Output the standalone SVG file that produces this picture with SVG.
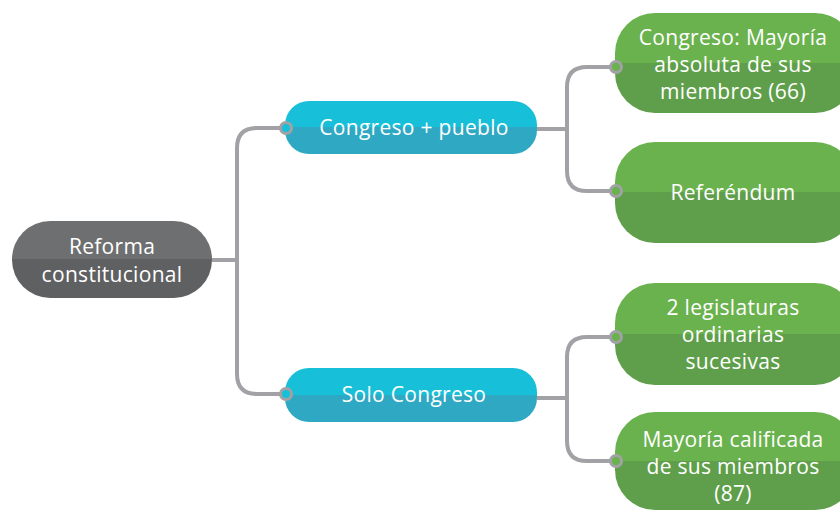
<svg xmlns="http://www.w3.org/2000/svg" width="840" height="510" viewBox="0 0 840 510">
<defs>
<linearGradient id="gGray" x1="0" y1="0" x2="0" y2="1"><stop offset="0.5" stop-color="#6e6f71"/><stop offset="0.5" stop-color="#5f6062"/></linearGradient>
<linearGradient id="gCyan" x1="0" y1="0" x2="0" y2="1"><stop offset="0.5" stop-color="#17c0d8"/><stop offset="0.5" stop-color="#2fa9c3"/></linearGradient>
<linearGradient id="gGreen" x1="0" y1="0" x2="0" y2="1"><stop offset="0.5" stop-color="#6ab24d"/><stop offset="0.5" stop-color="#5f9f4b"/></linearGradient>
<style>
.t{font-family:"Open Sans","Noto Sans",sans-serif;font-size:21px;letter-spacing:0.3px;fill:#ffffff;text-anchor:middle}
.ln{fill:none;stroke:#a2a2a6;stroke-width:4}
.dot{stroke:#a2a2a6;stroke-width:3}
</style>
</defs>
<rect width="840" height="510" fill="#ffffff"/>
<g id="connectors">
<path class="ln" d="M212 260 H237"/>
<path class="ln" d="M285 128 H257 Q237 128 237 148 V374 Q237 394 257 394 H285"/>
<path class="ln" d="M537 129 H567"/>
<path class="ln" d="M616 67 H587 Q567 67 567 87 V171 Q567 191 587 191 H616"/>
<path class="ln" d="M537 398 H567"/>
<path class="ln" d="M616 337 H587 Q567 337 567 357 V441 Q567 461 587 461 H616"/>
</g>
<g id="root">
<rect x="12" y="221" width="200" height="77" rx="38" fill="url(#gGray)"/>
<text class="t" x="112" y="254">Reforma</text>
<text class="t" x="112" y="282">constitucional</text>
</g>
<g id="congreso-pueblo">
<rect x="285" y="101" width="252" height="53" rx="24" fill="url(#gCyan)"/>
<text class="t" x="414" y="135">Congreso + pueblo</text>
<circle class="dot" cx="286" cy="128" r="5.5" fill="#17c0d8"/>
</g>
<g id="solo-congreso">
<rect x="285" y="368" width="252" height="54" rx="24" fill="url(#gCyan)"/>
<text class="t" x="414" y="402">Solo Congreso</text>
<circle class="dot" cx="286" cy="394" r="5.5" fill="#17c0d8"/>
</g>
<g id="mayoria-absoluta">
<rect x="615" y="13" width="240" height="100" rx="40" fill="url(#gGreen)"/>
<text class="t" x="733" y="45">Congreso: Mayoría</text>
<text class="t" x="733" y="72">absoluta de sus</text>
<text class="t" x="733" y="99">miembros (66)</text>
<circle class="dot" cx="616" cy="67" r="5.5" fill="#6ab24d"/>
</g>
<g id="referendum">
<rect x="615" y="142" width="240" height="101" rx="40" fill="url(#gGreen)"/>
<text class="t" x="733" y="200">Referéndum</text>
<circle class="dot" cx="616" cy="191" r="5.5" fill="#6ab24d"/>
</g>
<g id="legislaturas">
<rect x="615" y="283" width="240" height="102" rx="40" fill="url(#gGreen)"/>
<text class="t" x="733" y="315">2 legislaturas</text>
<text class="t" x="733" y="342">ordinarias</text>
<text class="t" x="733" y="369">sucesivas</text>
<circle class="dot" cx="616" cy="337" r="5.5" fill="#6ab24d"/>
</g>
<g id="mayoria-calificada">
<rect x="615" y="412" width="240" height="98" rx="40" fill="url(#gGreen)"/>
<text class="t" x="733" y="447">Mayoría calificada</text>
<text class="t" x="733" y="474">de sus miembros</text>
<text class="t" x="733" y="501">(87)</text>
<circle class="dot" cx="616" cy="461" r="5.5" fill="#6ab24d"/>
</g>
</svg>
